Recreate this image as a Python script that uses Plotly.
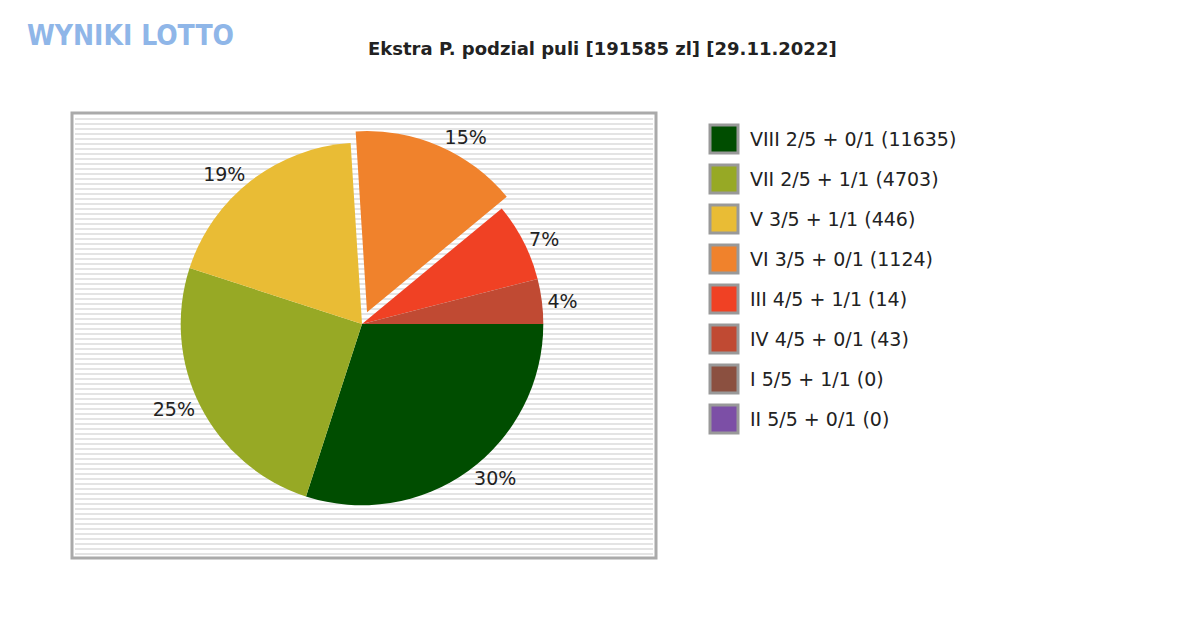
import plotly.graph_objects as go

labels = ["VIII 2/5 + 0/1 (11635)", "VII 2/5 + 1/1 (4703)", "V 3/5 + 1/1 (446)",
          "VI 3/5 + 0/1 (1124)", "III 4/5 + 1/1 (14)", "IV 4/5 + 0/1 (43)",
          "I 5/5 + 1/1 (0)", "II 5/5 + 0/1 (0)"]
shares = [30, 25, 19, 15, 7, 4, 0, 0]
colors = ["#004d00", "#97a925", "#e9bc35", "#f0822c", "#f04124", "#c04a33", "#8b5040", "#7c4fa6"]
pulls = [0, 0, 0, 0.07, 0, 0, 0, 0]

W, H = 1200, 630
OFF = 8  # page offset seen in the render


def px(x):
    return (x - OFF) / W


def py(y):
    return 1 - (y - OFF) / H


fig = go.Figure()

# striped background box
x0, x1, y0, y1 = 72, 656, 113, 558
shapes = [dict(type="rect", xref="paper", yref="paper", x0=px(x0), x1=px(x1),
               y0=py(y1), y1=py(y0), fillcolor="white",
               line=dict(color="#aaaaaa", width=3), layer="below")]
yy = y0 + 6
while yy < y1 - 3:
    shapes.append(dict(type="line", xref="paper", yref="paper", x0=px(x0 + 3), x1=px(x1 - 3),
                       y0=py(yy), y1=py(yy), line=dict(color="#e4e4e4", width=2), layer="below"))
    yy += 5

fig.add_trace(go.Pie(
    labels=labels, values=shares, marker=dict(colors=colors),
    sort=False, direction="clockwise", rotation=90, pull=pulls,
    text=[f"{v}%" if v else "" for v in shares], textinfo="text",
    textposition="outside", textfont=dict(size=19, color="#222222"),
    domain=dict(x=[px(160), px(564)], y=[py(518), py(130)]), showlegend=False,
))

# legend drawn by hand
for i, (lab, col) in enumerate(zip(labels, colors)):
    cy = 139 + 40 * i
    shapes.append(dict(type="rect", xref="paper", yref="paper", x0=px(710), x1=px(738),
                       y0=py(cy + 14), y1=py(cy - 14), fillcolor=col,
                       line=dict(color="#999999", width=3)))
    fig.add_annotation(text=lab, x=px(748), y=py(cy), xref="paper", yref="paper",
                       xanchor="left", yanchor="middle", showarrow=False,
                       font=dict(size=19, color="#222222"))

fig.add_annotation(text="<b>Ekstra P. podzial puli [191585 zl] [29.11.2022]</b>", x=px(602), y=py(48),
                   xref="paper", yref="paper", xanchor="center", yanchor="middle", showarrow=False,
                   font=dict(size=18, color="#222222"))
fig.add_annotation(text="<b>WYNIKI LOTTO</b>", x=px(130), y=py(36), xref="paper", yref="paper",
                   xanchor="center", yanchor="middle", showarrow=False,
                   font=dict(size=28, color="#8fb6e8", family="DejaVu Sans Condensed"))

fig.update_layout(
    width=W, height=H, margin=dict(l=0, r=0, t=0, b=0),
    paper_bgcolor="white", shapes=shapes,
    font=dict(family="DejaVu Sans", color="#222222"),
)
fig.write_html("out.html")
